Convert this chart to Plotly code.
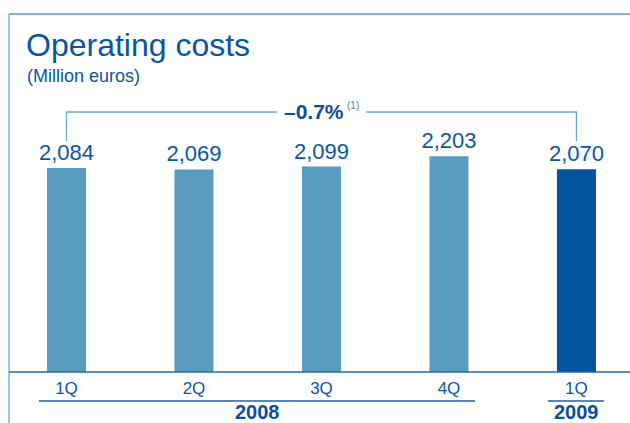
import plotly.graph_objects as go

# Quarterly operating costs, million euros
quarters = ["1Q", "2Q", "3Q", "4Q", "1Q"]
years = ["2008", "2008", "2008", "2008", "2009"]
costs = [2084, 2069, 2099, 2203, 2070]
change_label = "–0.7%"
change_note = "(1)"

LIGHT = "#599cbf"
DARK = "#01539d"
TEXT = "#0b57a4"
FRAME = "#7fb3d9"

W, H = 630, 423
PLOT_BOTTOM = 372  # pixel row of the baseline


def py(px):
    """pixel row -> paper y (plot area spans rows 0..PLOT_BOTTOM)"""
    return 1 - px / PLOT_BOTTOM


x_idx = list(range(len(costs)))
colors = [LIGHT] * 4 + [DARK]

fig = go.Figure(
    go.Bar(
        x=x_idx,
        y=costs,
        width=0.306,
        marker=dict(color=colors, line=dict(width=0)),
        text=[f"{v:,}" for v in costs],
        textposition="outside",
        constraintext="none",
        textfont=dict(size=22, color=TEXT, family="Liberation Sans, Arial"),
        cliponaxis=False,
        hoverinfo="skip",
    )
)

fig.update_layout(
    width=W,
    height=H,
    margin=dict(l=0, r=0, t=0, b=H - PLOT_BOTTOM),
    paper_bgcolor="white",
    plot_bgcolor="white",
    showlegend=False,
    font=dict(family="Liberation Sans, Arial", color=TEXT),
    xaxis=dict(
        range=[-0.5216, 4.42],
        tickvals=x_idx,
        ticktext=quarters,
        tickfont=dict(size=17, color=TEXT),
        showgrid=False,
        zeroline=False,
        showline=False,
        ticks="",
        ticklabelstandoff=4,
        fixedrange=True,
    ),
    yaxis=dict(range=[0, 3800], visible=False, fixedrange=True),
)

shapes = []
# outer frame: top rule and left rule
shapes.append(dict(type="line", xref="paper", yref="paper", x0=9 / W, x1=1,
                   y0=py(14), y1=py(14), line=dict(color=FRAME, width=2)))
shapes.append(dict(type="line", xref="paper", yref="paper", x0=9 / W, x1=9 / W,
                   y0=py(14), y1=py(H), line=dict(color=FRAME, width=1.5)))
# baseline
shapes.append(dict(type="line", xref="paper", yref="paper", x0=9 / W, x1=1,
                   y0=py(PLOT_BOTTOM), y1=py(PLOT_BOTTOM),
                   line=dict(color="#2a66ad", width=1.5)))
# year underlines
shapes.append(dict(type="line", xref="x", yref="paper", x0=-0.216, x1=3.204,
                   y0=py(401), y1=py(401), line=dict(color="#1f5ea8", width=1.5)))
shapes.append(dict(type="line", xref="x", yref="paper", x0=3.776, x1=4.216,
                   y0=py(401), y1=py(401), line=dict(color="#1f5ea8", width=1.5)))
# comparison bracket between first and last quarter, with a gap for its label
y_top, y_end = 2656, 2360
gap_l, gap_r = 1.651, 2.349
bracket = dict(color="#6aa8d2", width=1.3)
shapes.append(dict(type="path", xref="x", yref="y",
                   path=f"M 0,{y_end} L 0,{y_top} L {gap_l},{y_top}", line=bracket))
shapes.append(dict(type="path", xref="x", yref="y",
                   path=f"M {gap_r},{y_top} L 4,{y_top} L 4,{y_end}", line=bracket))
fig.update_layout(shapes=shapes)

annotations = [
    dict(text="Operating costs", xref="paper", yref="paper", x=24 / W, y=py(45),
         xanchor="left", yanchor="middle", showarrow=False,
         font=dict(size=32, color="#0a55a2")),
    dict(text="(Million euros)", xref="paper", yref="paper", x=25 / W, y=py(76),
         xanchor="left", yanchor="middle", showarrow=False,
         font=dict(size=18, color="#0a55a2")),
    dict(text=f"<b>{change_label}</b>",
         xref="x", yref="y", x=1.945, y=y_top, xanchor="center", yanchor="middle",
         showarrow=False, font=dict(size=21, color="#0b4f98")),
    dict(text=change_note,
         xref="x", yref="y", x=2.247, y=2727, xanchor="center", yanchor="middle",
         showarrow=False, font=dict(size=10, color="#4f7fb8")),
    dict(text=f"<b>{years[0]}</b>", xref="x", yref="paper", x=1.5, y=py(412),
         xanchor="center", yanchor="middle", showarrow=False,
         font=dict(size=20, color="#0b4f98")),
    dict(text=f"<b>{years[4]}</b>", xref="x", yref="paper", x=4, y=py(412),
         xanchor="center", yanchor="middle", showarrow=False,
         font=dict(size=20, color="#0b4f98")),
]
fig.update_layout(annotations=annotations)

fig.write_html("out.html")
